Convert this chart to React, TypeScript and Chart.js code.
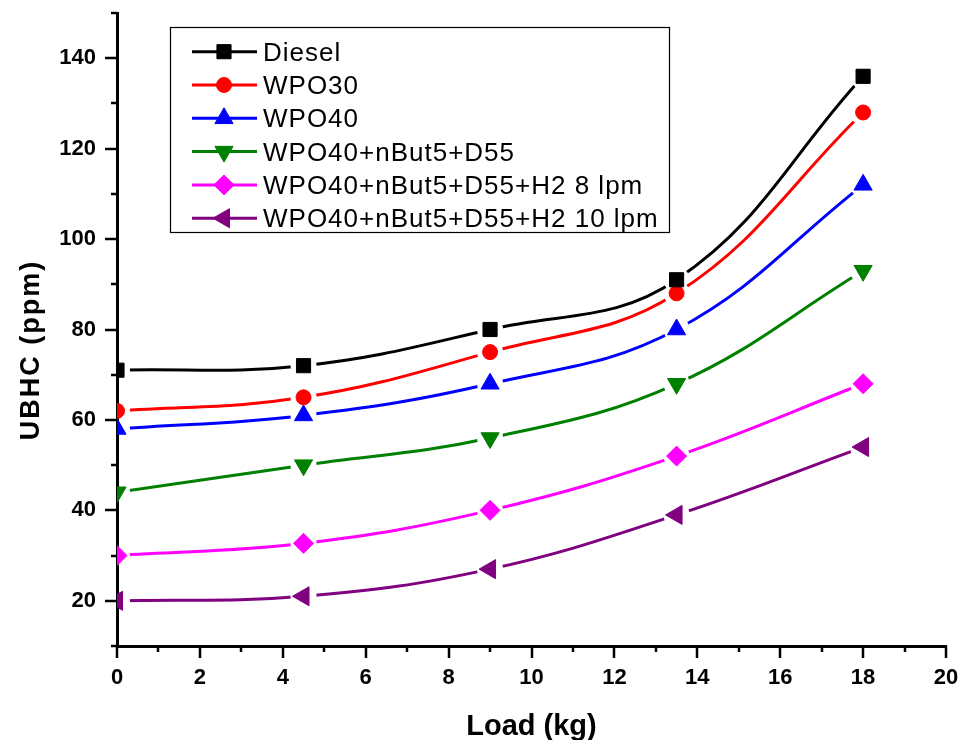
import React, { useEffect, useRef } from 'react';
import { Chart, registerables } from 'chart.js';
import { drawPoint } from 'chart.js/helpers';

Chart.register(...registerables);

// ---- data ----
const loads = [0, 4.5, 9, 13.5, 18];
const seriesNames = [
  'Diesel',
  'WPO30',
  'WPO40',
  'WPO40+nBut5+D55',
  'WPO40+nBut5+D55+H2 8 lpm',
  'WPO40+nBut5+D55+H2 10 lpm',
];
const diesel = [71, 72, 80, 91, 136];
const wpo30 = [62, 65, 75, 88, 128];
const wpo40 = [58, 61, 68, 80, 112];
const wpo40But5D55 = [44, 50, 56, 68, 93];
const h2Lpm8 = [30, 32.7, 40, 52, 68];
const h2Lpm10 = [20, 21, 27, 39, 54];
const seriesValues = [diesel, wpo30, wpo40, wpo40But5D55, h2Lpm8, h2Lpm10];

const xTitle = 'Load (kg)';
const yTitle = 'UBHC (ppm)';
const xMin = 0, xMax = 20, xStep = 2, xMinorStep = 1;
const yMin = 10, yMax = 150, yStep = 20, yMinorStep = 10;

// ---- styles ----
const colors = ['#000000', '#FF0000', '#0000FF', '#008000', '#FF00FF', '#800080'];
const pointStyles = ['rect', 'circle', 'triangle', 'triangle', 'rectRot', 'triangle'];
const pointRotations = [0, 0, 0, 180, 0, 270];
const pointRadii = [10, 7.5, 10.5, 10.5, 10, 11];
const FONT = '"Liberation Sans", Arial, Helvetica, sans-serif';
const GAP = 13;

const gapPlugin = {
  id: 'gapPlugin',
  beforeDatasetDraw(chart: any, args: any) {
    const ctx = chart.ctx;
    ctx.save();
    ctx.beginPath();
    ctx.rect(0, 0, chart.width, chart.height);
    for (const el of args.meta.data) {
      ctx.moveTo(el.x + GAP, el.y);
      ctx.arc(el.x, el.y, GAP, 0, Math.PI * 2, true);
    }
    ctx.clip('evenodd');
  },
  afterDatasetDraw(chart: any, args: any) {
    const ctx = chart.ctx;
    ctx.restore();
    const a = chart.chartArea;
    ctx.save();
    ctx.beginPath();
    ctx.rect(a.left, a.top, a.right - a.left, a.bottom - a.top);
    ctx.clip();
    for (const el of args.meta.data) el.draw(ctx, a);
    ctx.restore();
  },
};

const decorPlugin = {
  id: 'decorPlugin',
  afterDraw(chart: any) {
    const ctx = chart.ctx;
    const a = chart.chartArea;
    const xs = chart.scales.x;
    const ys = chart.scales.y;
    ctx.save();
    ctx.strokeStyle = '#000';
    ctx.lineWidth = 2.5;
    ctx.lineCap = 'butt';
    // y ticks
    for (let v = yMin; v <= yMax + 1e-9; v += yMinorStep) {
      const py = Math.round(ys.getPixelForValue(v));
      const len = v % yStep === 0 ? 12 : 6;
      ctx.beginPath();
      ctx.moveTo(a.left - len, py);
      ctx.lineTo(a.left, py);
      ctx.stroke();
    }
    // x ticks
    for (let v = xMin; v <= xMax + 1e-9; v += xMinorStep) {
      const px = Math.round(xs.getPixelForValue(v));
      const len = v % xStep === 0 ? 12 : 6;
      ctx.beginPath();
      ctx.moveTo(px, a.bottom);
      ctx.lineTo(px, a.bottom + len);
      ctx.stroke();
    }
    // axis titles
    ctx.fillStyle = '#000';
    ctx.textBaseline = 'alphabetic';
    ctx.textAlign = 'center';
    ctx.font = `bold 29px ${FONT}`;
    ctx.fillText(xTitle, (a.left + a.right) / 2, 735);
    ctx.save();
    ctx.translate(39, 350);
    ctx.rotate(-Math.PI / 2);
    ctx.font = `bold 27px ${FONT}`;
    try { (ctx as any).letterSpacing = '2px'; } catch (e) {}
    ctx.fillText(yTitle, 0, 0);
    ctx.restore();

    // legend
    const bx = 170, by = 27, bw = 499, bh = 205;
    ctx.lineWidth = 1.2;
    ctx.strokeStyle = '#000';
    ctx.strokeRect(bx + 0.5, by + 0.5, bw, bh);
    ctx.font = `26px ${FONT}`;
    ctx.textAlign = 'left';
    ctx.textBaseline = 'alphabetic';
    try { (ctx as any).letterSpacing = '1px'; } catch (e) {}
    for (let i = 0; i < seriesNames.length; i++) {
      const cy = 51.7 + i * 33.3;
      ctx.strokeStyle = colors[i];
      ctx.lineWidth = 3;
      ctx.beginPath();
      ctx.moveTo(192, cy);
      ctx.lineTo(257, cy);
      ctx.stroke();
      ctx.fillStyle = colors[i];
      ctx.lineWidth = 1;
      drawPoint(ctx, { pointStyle: pointStyles[i], rotation: pointRotations[i], radius: pointRadii[i], borderWidth: 1 } as any, 224, cy);
      ctx.fillStyle = '#000';
      ctx.fillText(seriesNames[i], 263, cy + 9);
    }
    ctx.restore();
  },
};

export default function App() {
  const canvasRef = useRef<HTMLCanvasElement | null>(null);

  useEffect(() => {
    if (!canvasRef.current) return;
    const datasets = seriesNames.map((name, i) => ({
      label: name,
      data: loads.map((x, j) => ({ x, y: seriesValues[i][j] })),
      borderColor: colors[i],
      backgroundColor: colors[i],
      borderWidth: 3,
      pointStyle: pointStyles[i],
      pointRotation: pointRotations[i],
      pointRadius: pointRadii[i],
      pointBorderWidth: 1,
      pointBorderColor: colors[i],
      pointBackgroundColor: colors[i],
      tension: 0.4,
      fill: false,
    }));
    const tickFont = { family: FONT, size: 22, weight: 'bold' as const };
    const chart = new Chart(canvasRef.current, {
      type: 'line',
      data: { datasets },
      options: {
        animation: false,
        responsive: true,
        maintainAspectRatio: false,
        layout: { padding: { left: 0, top: 13, right: 14, bottom: 0 } },
        plugins: { legend: { display: false }, tooltip: { enabled: false } },
        scales: {
          x: {
            type: 'linear',
            min: xMin,
            max: xMax,
            ticks: { stepSize: xStep, padding: 19, color: '#000', font: tickFont, maxRotation: 0 },
            grid: { display: false, drawTicks: false },
            border: { display: true, color: '#000', width: 3 },
            afterFit: (s: any) => { s.height = 94; s.paddingLeft = 0; s.paddingRight = 0; },
          },
          y: {
            type: 'linear',
            min: yMin,
            max: yMax,
            ticks: {
              stepSize: yMinorStep,
              maxTicksLimit: 30,
              padding: 21,
              color: '#000',
              font: tickFont,
              callback: (v: any) => (v % yStep === 0 && v > yMin && v < yMax ? String(v) : ''),
            },
            grid: { display: false, drawTicks: false },
            border: { display: true, color: '#000', width: 3 },
            afterFit: (s: any) => { s.width = 117; s.paddingTop = 0; s.paddingBottom = 0; },
          },
        },
      } as any,
      plugins: [gapPlugin, decorPlugin],
    });
    return () => chart.destroy();
  }, []);

  return (
    <div style={{ position: 'absolute', left: 0, top: 0, width: 960, height: 740, background: '#fff' }}>
      <canvas ref={canvasRef} />
    </div>
  );
}
